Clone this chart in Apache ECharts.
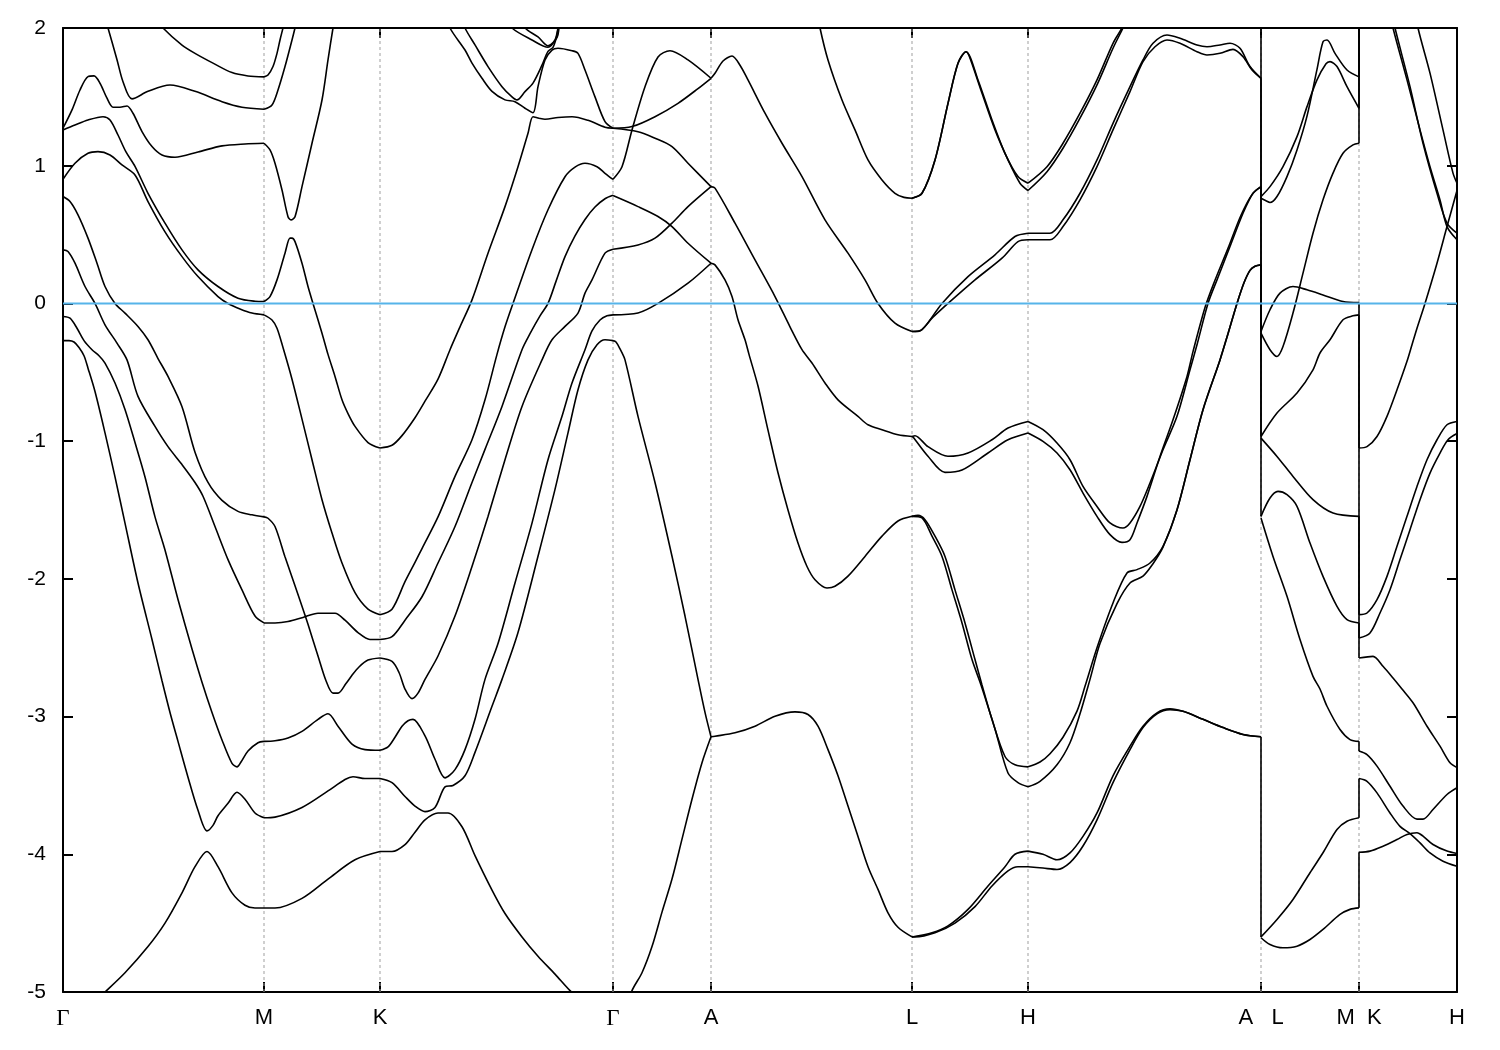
<!DOCTYPE html>
<html><head><meta charset="utf-8">
<script src="https://cdn.jsdelivr.net/npm/echarts@6/dist/echarts.min.js"></script>
<style>html,body{margin:0;padding:0;background:#fff}#c{width:1500px;height:1050px}</style>
</head><body><div id="c"></div>
<script>
// high-symmetry k positions (path length units) and their labels
const kTicks = [0, 201, 317, 550, 648, 849, 965, 1198, 1296, 1394];
const kLabels = ['Γ', 'M', 'K', 'Γ', 'A', 'L', 'H', 'A   L', 'M  K', 'H'];
const eMin = -5, eMax = 2, eStep = 1;
const fermiLevel = 0;

// ---- band data, one array of curves per path segment: [k, E(eV)] ----
const segGM = [
 [[96,2.05],[100,2.0],[119,1.876],[132,1.816],[150,1.745],[169,1.676],[185,1.652],[201,1.645]],
 [[43,2.05],[45,2.0],[54,1.77],[60,1.61],[69,1.485],[85,1.54],[107,1.586],[132,1.54],[159,1.465],[179,1.425],[201,1.41]],
 [[0,1.272],[9,1.405],[17,1.55],[25,1.647],[31,1.652],[37,1.599],[44,1.49],[50,1.425],[57,1.425],[64,1.434],[70,1.381],[79,1.248],[89,1.139],[99,1.078],[112,1.062],[135,1.10],[159,1.144],[182,1.158],[201,1.163]],
 [[0,1.26],[12,1.296],[25,1.332],[40,1.356],[47,1.332],[55,1.223],[63,1.10],[72,0.995],[85,0.80],[102,0.583],[119,0.389],[135,0.244],[155,0.123],[175,0.038],[192,0.016],[201,0.014]],
 [[0,0.902],[12,1.018],[25,1.09],[35,1.102],[47,1.078],[59,1.006],[72,0.933],[85,0.74],[102,0.52],[119,0.34],[135,0.195],[155,0.05],[165,0.0],[177,-0.04],[189,-0.07],[201,-0.083]],
 [[0,0.776],[7,0.74],[15,0.643],[25,0.474],[34,0.292],[42,0.123],[52,0.0],[62,-0.07],[75,-0.167],[85,-0.264],[95,-0.40],[105,-0.53],[119,-0.75],[132,-1.08],[145,-1.30],[159,-1.43],[175,-1.51],[189,-1.535],[201,-1.55]],
 [[0,0.389],[5,0.377],[12,0.292],[22,0.123],[32,0.0],[42,-0.155],[54,-0.288],[64,-0.41],[75,-0.675],[92,-0.893],[105,-1.04],[119,-1.17],[132,-1.30],[140,-1.40],[152,-1.62],[165,-1.86],[179,-2.08],[192,-2.27],[201,-2.32]],
 [[0,-0.095],[7,-0.107],[14,-0.18],[21,-0.27],[29,-0.336],[36,-0.38],[42,-0.433],[52,-0.578],[62,-0.77],[72,-1.01],[82,-1.26],[92,-1.55],[102,-1.79],[115,-2.15],[129,-2.51],[139,-2.75],[149,-2.97],[159,-3.17],[169,-3.34],[174,-3.365],[178,-3.33],[185,-3.25],[195,-3.19],[201,-3.18]],
 [[0,-0.27],[6,-0.27],[11,-0.28],[16,-0.32],[21,-0.38],[25,-0.47],[32,-0.64],[42,-0.94],[52,-1.26],[62,-1.595],[75,-2.03],[89,-2.44],[99,-2.74],[107,-2.97],[115,-3.18],[125,-3.44],[135,-3.68],[144,-3.83],[150,-3.79],[155,-3.72],[165,-3.63],[174,-3.55],[182,-3.60],[192,-3.70],[201,-3.735]],
 [[30,-5.08],[42,-5.0],[62,-4.86],[85,-4.67],[102,-4.5],[119,-4.28],[132,-4.09],[144,-3.98],[155,-4.09],[169,-4.28],[182,-4.37],[192,-4.39],[201,-4.39]]
];
const segMK = [
 [[201,1.645],[205,1.659],[210,1.72],[214,1.816],[217,1.913],[220,2.0],[222,2.06]],
 [[201,1.41],[209,1.441],[215,1.55],[222,1.72],[229,1.913],[232,2.0],[234,2.06]],
 [[201,1.163],[207,1.115],[212,1.018],[219,0.824],[225,0.63],[228,0.607],[232,0.63],[239,0.848],[249,1.163],[259,1.477],[265,1.768],[270,2.0],[272,2.08]],
 [[201,0.014],[207,0.05],[214,0.171],[222,0.365],[227,0.474],[229,0.474],[232,0.449],[239,0.292],[245,0.123],[250,0.0],[259,-0.216],[265,-0.37],[272,-0.53],[279,-0.70],[285,-0.80],[292,-0.893],[305,-1.01],[317,-1.05]],
 [[201,-0.083],[209,-0.12],[214,-0.18],[220,-0.32],[229,-0.55],[239,-0.84],[249,-1.135],[259,-1.425],[269,-1.667],[279,-1.885],[292,-2.10],[305,-2.22],[317,-2.26]],
 [[201,-1.55],[205,-1.56],[212,-1.62],[222,-1.84],[232,-2.05],[240,-2.22],[245,-2.33],[255,-2.56],[263,-2.74],[270,-2.83],[275,-2.83],[283,-2.76],[289,-2.70],[296,-2.64],[305,-2.59],[317,-2.575]],
 [[201,-2.32],[212,-2.32],[225,-2.31],[240,-2.28],[255,-2.25],[272,-2.25],[282,-2.30],[295,-2.39],[307,-2.44],[317,-2.44]],
 [[201,-3.18],[212,-3.175],[225,-3.155],[239,-3.107],[255,-3.02],[265,-2.98],[275,-3.07],[289,-3.20],[302,-3.24],[317,-3.245]],
 [[201,-3.735],[212,-3.73],[239,-3.66],[265,-3.54],[282,-3.457],[290,-3.437],[302,-3.45],[317,-3.45]],
 [[201,-4.39],[212,-4.39],[239,-4.32],[265,-4.18],[292,-4.04],[317,-3.98]]
];
const segKG = [
 [[317,-1.05],[329,-1.03],[339,-0.96],[352,-0.83],[362,-0.71],[375,-0.55],[387,-0.336],[397,-0.17],[409,0.026],[425,0.365],[442,0.703],[455,0.993],[465,1.236],[470,1.356],[476,1.345],[482,1.337],[495,1.35],[509,1.356],[525,1.33],[542,1.28],[550,1.272]],
 [[385,2.08],[387,2.0],[402,1.84],[409,1.745],[419,1.635],[429,1.54],[442,1.478],[452,1.465],[462,1.417],[470,1.385],[475,1.574],[482,1.768],[489,1.84],[495,1.853],[509,1.835],[515,1.816],[522,1.695],[532,1.50],[542,1.32],[550,1.272]],
 [[400,2.06],[402,2.0],[412,1.877],[425,1.72],[439,1.574],[449,1.50],[454,1.478],[462,1.538],[470,1.60],[479,1.73],[485,1.83],[490,1.86],[494,1.95],[496,2.06]],
 [[447,2.06],[449,2.0],[469,1.913],[485,1.86],[492,1.913],[495,2.0],[496,2.06]],
 [[460,2.05],[462,2.0],[475,1.935],[485,1.87],[494,1.93],[496,2.0],[497,2.05]],
 [[317,-2.26],[329,-2.22],[342,-2.02],[352,-1.88],[359,-1.78],[375,-1.55],[392,-1.256],[409,-0.99],[422,-0.70],[434,-0.37],[442,-0.17],[450,0.0],[469,0.39],[485,0.68],[502,0.92],[512,0.99],[522,1.018],[534,0.993],[542,0.945],[550,0.90]],
 [[317,-2.575],[329,-2.60],[336,-2.68],[342,-2.80],[349,-2.87],[355,-2.83],[362,-2.73],[375,-2.56],[392,-2.27],[409,-1.91],[425,-1.547],[442,-1.135],[459,-0.748],[479,-0.41],[489,-0.264],[502,-0.167],[515,-0.07],[522,0.075],[529,0.171],[542,0.365],[550,0.394]],
 [[317,-2.44],[329,-2.42],[342,-2.30],[359,-2.13],[375,-1.885],[392,-1.62],[409,-1.30],[422,-1.06],[439,-0.748],[459,-0.336],[467,-0.22],[477,-0.09],[485,0.0],[493,0.16],[502,0.34],[512,0.49],[522,0.61],[532,0.70],[542,0.76],[550,0.785]],
 [[317,-3.245],[325,-3.22],[332,-3.15],[339,-3.07],[345,-3.03],[350,-3.02],[362,-3.14],[372,-3.31],[382,-3.445],[392,-3.385],[402,-3.24],[412,-3.02],[422,-2.73],[435,-2.47],[452,-2.03],[469,-1.595],[485,-1.135],[499,-0.82],[509,-0.578],[522,-0.336],[529,-0.2],[537,-0.12],[544,-0.09],[550,-0.083]],
 [[317,-3.45],[329,-3.48],[342,-3.58],[352,-3.65],[362,-3.69],[372,-3.66],[382,-3.51],[390,-3.50],[402,-3.43],[412,-3.26],[429,-2.925],[439,-2.73],[455,-2.39],[475,-1.836],[492,-1.35],[505,-0.94],[515,-0.627],[525,-0.41],[534,-0.30],[542,-0.264],[550,-0.27]],
 [[317,-3.98],[329,-3.98],[342,-3.93],[352,-3.84],[362,-3.75],[375,-3.70],[385,-3.70],[399,-3.80],[412,-4.01],[429,-4.26],[442,-4.43],[459,-4.60],[475,-4.74],[492,-4.87],[507,-4.99],[520,-5.08]]
];
const segGA = [
 [[550,1.272],[569,1.284],[592,1.356],[615,1.453],[635,1.56],[648,1.635]],
 [[550,0.902],[559,0.993],[569,1.26],[582,1.574],[595,1.79],[607,1.835],[625,1.768],[648,1.635]],
 [[550,1.272],[575,1.247],[592,1.20],[609,1.139],[625,1.018],[648,0.848]],
 [[550,0.783],[575,0.703],[595,0.631],[609,0.558],[625,0.437],[648,0.292]],
 [[550,0.394],[575,0.425],[592,0.474],[609,0.583],[625,0.703],[648,0.848]],
 [[550,-0.083],[575,-0.07],[595,0.0],[625,0.147],[648,0.292]],
 [[550,-0.27],[553,-0.28],[557,-0.33],[562,-0.41],[575,-0.82],[592,-1.30],[609,-1.836],[622,-2.27],[635,-2.73],[642,-2.97],[648,-3.147]],
 [[565,-5.1],[569,-4.99],[579,-4.86],[589,-4.67],[599,-4.42],[609,-4.18],[619,-3.89],[629,-3.60],[639,-3.335],[648,-3.147]]
];
const segAL = [
 [[648,1.635],[652,1.671],[660,1.76],[669,1.797],[677,1.73],[685,1.623],[702,1.381],[719,1.163],[739,0.921],[762,0.607],[785,0.365],[802,0.171],[815,0.0],[832,-0.143],[849,-0.204]],
 [[648,0.848],[652,0.837],[672,0.583],[692,0.316],[712,0.05],[727,-0.17],[739,-0.336],[749,-0.433],[762,-0.578],[775,-0.70],[795,-0.82],[805,-0.881],[819,-0.917],[835,-0.954],[849,-0.966]],
 [[648,0.292],[652,0.28],[662,0.171],[669,0.05],[675,-0.119],[682,-0.264],[686,-0.37],[695,-0.60],[705,-0.92],[715,-1.23],[725,-1.50],[735,-1.74],[744,-1.91],[752,-2.006],[764,-2.066],[772,-2.054],[785,-1.98],[802,-1.837],[819,-1.69],[835,-1.58],[849,-1.546]],
 [[648,-3.147],[652,-3.143],[672,-3.118],[692,-3.07],[712,-2.998],[732,-2.966],[745,-2.985],[755,-3.07],[765,-3.24],[775,-3.43],[785,-3.65],[795,-3.87],[805,-4.09],[815,-4.255],[825,-4.425],[835,-4.53],[849,-4.60]],
 [[755,2.1],[757,2.0],[765,1.768],[779,1.477],[792,1.26],[805,1.042],[819,0.897],[832,0.80],[841,0.77],[849,0.764]]
];
const segLH = [
 [[849,0.764],[859,0.80],[872,1.042],[885,1.453],[895,1.744],[903,1.828],[915,1.623],[929,1.332],[942,1.09],[955,0.921],[965,0.873]],
 [[849,0.764],[859,0.80],[872,1.042],[885,1.453],[895,1.744],[903,1.828],[906,1.80],[919,1.526],[932,1.26],[945,1.042],[957,0.873],[965,0.82]],
 [[849,-0.204],[859,-0.19],[879,0.0],[905,0.195],[932,0.353],[952,0.486],[965,0.51]],
 [[849,-0.204],[855,-0.204],[870,-0.10],[885,0.0],[912,0.171],[939,0.329],[955,0.449],[965,0.462]],
 [[849,-0.966],[852,-0.961],[865,-1.04],[885,-1.11],[905,-1.086],[929,-0.99],[945,-0.905],[965,-0.857]],
 [[849,-0.966],[850,-0.97],[865,-1.11],[882,-1.227],[899,-1.21],[925,-1.086],[945,-0.99],[965,-0.941]],
 [[849,-1.546],[855,-1.539],[862,-1.57],[872,-1.69],[882,-1.837],[892,-2.08],[902,-2.32],[912,-2.586],[919,-2.77],[929,-3.02],[942,-3.29],[952,-3.35],[965,-3.365]],
 [[849,-1.546],[859,-1.558],[869,-1.69],[879,-1.837],[889,-2.08],[899,-2.32],[909,-2.586],[918,-2.77],[932,-3.09],[945,-3.41],[955,-3.48],[965,-3.51]],
 [[849,-4.60],[869,-4.57],[885,-4.52],[905,-4.40],[925,-4.23],[942,-4.09],[952,-4.00],[965,-3.977]],
 [[849,-4.60],[852,-4.60],[872,-4.57],[892,-4.50],[912,-4.38],[929,-4.23],[945,-4.12],[955,-4.09],[965,-4.09]]
];
const segHA = [
 [[965,0.873],[984,0.993],[1000,1.163],[1017,1.381],[1034,1.623],[1050,1.889],[1059,2.0],[1062,2.05]],
 [[965,0.82],[984,0.957],[1000,1.127],[1017,1.345],[1034,1.587],[1050,1.853],[1060,2.0],[1063,2.05]],
 [[965,0.51],[987,0.51],[1000,0.607],[1017,0.80],[1034,1.042],[1050,1.308],[1067,1.574],[1080,1.768],[1090,1.889],[1104,1.949],[1117,1.925],[1134,1.877],[1144,1.864],[1157,1.877],[1167,1.889],[1177,1.853],[1187,1.72],[1198,1.635]],
 [[965,0.462],[987,0.462],[1000,0.558],[1017,0.752],[1034,0.993],[1050,1.26],[1067,1.538],[1080,1.756],[1092,1.864],[1104,1.913],[1117,1.889],[1134,1.828],[1144,1.804],[1157,1.816],[1170,1.845],[1180,1.792],[1189,1.695],[1198,1.635]],
 [[965,-0.857],[980,-0.917],[994,-1.014],[1007,-1.135],[1020,-1.329],[1034,-1.474],[1047,-1.594],[1060,-1.631],[1067,-1.594],[1077,-1.474],[1087,-1.304],[1100,-1.062],[1114,-0.82],[1127,-0.482],[1134,-0.30],[1145,0.0],[1154,0.171],[1167,0.413],[1180,0.655],[1190,0.80],[1198,0.848]],
 [[965,-0.941],[980,-1.002],[994,-1.086],[1007,-1.208],[1020,-1.377],[1034,-1.546],[1047,-1.679],[1059,-1.735],[1067,-1.716],[1074,-1.594],[1084,-1.401],[1097,-1.111],[1110,-0.845],[1124,-0.53],[1130,-0.35],[1142,-0.03],[1151,0.15],[1165,0.40],[1178,0.64],[1189,0.79],[1198,0.848]],
 [[965,-3.365],[977,-3.33],[987,-3.27],[1000,-3.15],[1014,-2.96],[1022,-2.78],[1034,-2.50],[1050,-2.175],[1064,-1.957],[1074,-1.933],[1087,-1.885],[1100,-1.764],[1114,-1.498],[1127,-1.135],[1140,-0.772],[1157,-0.41],[1165,-0.22],[1174,0.0],[1181,0.15],[1187,0.24],[1192,0.27],[1198,0.28]],
 [[965,-3.51],[977,-3.47],[994,-3.35],[1007,-3.19],[1017,-2.98],[1027,-2.73],[1037,-2.47],[1054,-2.18],[1067,-2.03],[1080,-1.98],[1090,-1.89],[1100,-1.77],[1114,-1.50],[1127,-1.135],[1140,-0.772],[1157,-0.41],[1165,-0.22],[1174,0.0],[1181,0.15],[1187,0.24],[1192,0.27],[1198,0.28]],
 [[965,-3.977],[980,-4.00],[994,-4.04],[1007,-3.99],[1020,-3.87],[1034,-3.70],[1050,-3.43],[1067,-3.215],[1080,-3.07],[1094,-2.973],[1107,-2.944],[1120,-2.962],[1140,-3.02],[1160,-3.08],[1180,-3.13],[1198,-3.147]],
 [[965,-4.09],[980,-4.10],[994,-4.11],[1007,-4.06],[1020,-3.94],[1034,-3.75],[1050,-3.48],[1067,-3.24],[1080,-3.08],[1094,-2.98],[1107,-2.95],[1120,-2.962],[1140,-3.02],[1160,-3.08],[1180,-3.13],[1198,-3.147]]
];
const segLM = [
 [[1198,0.764],[1203,0.745],[1207,0.733],[1214,0.776],[1224,0.921],[1234,1.115],[1244,1.36],[1254,1.70],[1260,1.90],[1264,1.913],[1272,1.816],[1284,1.695],[1296,1.645]],
 [[1198,0.776],[1207,0.848],[1220,0.993],[1234,1.211],[1244,1.429],[1254,1.623],[1263,1.74],[1267,1.756],[1274,1.72],[1284,1.574],[1296,1.417]],
 [[1198,-0.204],[1207,-0.046],[1217,0.075],[1230,0.123],[1244,0.099],[1260,0.062],[1280,0.014],[1296,0.007]],
 [[1198,-0.216],[1207,-0.336],[1214,-0.385],[1220,-0.313],[1230,-0.07],[1240,0.22],[1250,0.51],[1260,0.752],[1270,0.946],[1280,1.09],[1290,1.151],[1296,1.163]],
 [[1198,-0.966],[1214,-0.796],[1234,-0.651],[1250,-0.482],[1257,-0.36],[1267,-0.264],[1280,-0.119],[1290,-0.09],[1296,-0.083]],
 [[1198,-0.978],[1214,-1.111],[1230,-1.256],[1250,-1.425],[1270,-1.522],[1296,-1.546]],
 [[1198,-1.546],[1207,-1.413],[1215,-1.365],[1224,-1.389],[1234,-1.474],[1247,-1.74],[1260,-1.982],[1274,-2.20],[1284,-2.296],[1296,-2.32]],
 [[1198,-1.558],[1210,-1.837],[1224,-2.127],[1237,-2.44],[1250,-2.708],[1257,-2.80],[1264,-2.925],[1277,-3.094],[1287,-3.167],[1296,-3.18]],
 [[1198,-4.60],[1214,-4.473],[1230,-4.328],[1247,-4.134],[1260,-3.989],[1274,-3.82],[1284,-3.76],[1296,-3.735]],
 [[1198,-4.606],[1207,-4.655],[1220,-4.679],[1234,-4.667],[1247,-4.619],[1260,-4.546],[1277,-4.437],[1287,-4.40],[1296,-4.389]]
];
const segKH = [
 [[1328,2.08],[1330,2.0],[1344,1.623],[1357,1.26],[1367,0.993],[1377,0.752],[1384,0.558],[1394,0.462]],
 [[1330,2.08],[1332,2.0],[1347,1.574],[1360,1.163],[1374,0.80],[1384,0.583],[1394,0.51]],
 [[1354,2.08],[1355,2.0],[1367,1.672],[1380,1.26],[1390,0.946],[1394,0.873]],
 [[1296,-1.05],[1304,-1.04],[1314,-0.966],[1324,-0.82],[1334,-0.627],[1344,-0.42],[1349,-0.30],[1354,-0.18],[1362,0.0],[1374,0.292],[1384,0.558],[1394,0.82]],
 [[1296,-2.26],[1304,-2.248],[1314,-2.151],[1324,-1.982],[1334,-1.764],[1344,-1.546],[1354,-1.329],[1364,-1.135],[1374,-0.99],[1384,-0.881],[1394,-0.857]],
 [[1296,-2.43],[1307,-2.393],[1317,-2.248],[1327,-2.079],[1337,-1.86],[1347,-1.643],[1357,-1.425],[1367,-1.232],[1377,-1.087],[1385,-0.99],[1394,-0.945]],
 [[1296,-2.575],[1310,-2.563],[1320,-2.635],[1330,-2.72],[1339,-2.80],[1350,-2.90],[1364,-3.07],[1377,-3.215],[1387,-3.336],[1394,-3.37]],
 [[1296,-3.25],[1304,-3.276],[1314,-3.36],[1327,-3.506],[1340,-3.65],[1354,-3.745],[1360,-3.745],[1370,-3.675],[1384,-3.566],[1394,-3.517]],
 [[1296,-3.45],[1304,-3.47],[1314,-3.554],[1327,-3.70],[1337,-3.797],[1347,-3.85],[1357,-3.917],[1367,-3.99],[1380,-4.05],[1394,-4.087]],
 [[1296,-3.985],[1307,-3.977],[1320,-3.941],[1334,-3.893],[1344,-3.856],[1354,-3.844],[1360,-3.868],[1370,-3.929],[1384,-3.977],[1394,-3.994]]
];
// band connections across the path breaks A|L and M|K: [E before, E after]
const jumpAL = [[2.1,0.764],[1.635,-0.204],[0.848,-0.966],[0.28,-1.546],[-3.147,-4.60]];
const jumpMK = [[1.645,2.1],[1.417,2.1],[1.163,2.1],[0.007,-1.05],[-0.083,-2.26],[-1.546,-2.43],[-2.32,-2.575],[-3.18,-3.25],[-3.735,-3.45],[-4.389,-3.985]];

// ---- build series ----
const bandStyle = {color:'#000', width:1.6};
const series = [];
// dotted vertical guides at interior high-symmetry points
kTicks.slice(1, -1).forEach(k => {
  series.push({type:'line', data:[[k,eMin],[k,eMax]], symbol:'none', silent:true, z:1,
    lineStyle:{color:'#a0a0a0', width:1, type:[3,3]}});
});
[segGM, segMK, segKG, segGA, segAL, segLH, segHA, segLM, segKH].forEach(seg => {
  seg.forEach(curve => series.push({type:'line', data:curve, symbol:'none', smooth:0.3,
    silent:true, z:3, lineStyle:bandStyle}));
});
[[kTicks[7], jumpAL], [kTicks[8], jumpMK]].forEach(([k, pairs]) => {
  pairs.forEach(p => series.push({type:'line', data:[[k,p[0]],[k,p[1]]], symbol:'none',
    silent:true, z:3, lineStyle:bandStyle}));
});
series.push({type:'line', data:[[kTicks[0],fermiLevel],[kTicks[kTicks.length-1],fermiLevel]],
  symbol:'none', silent:true, z:5, lineStyle:{color:'#56b4e9', width:2}});

const axisLineStyle = {color:'#000', width:2};
const option = {
  animation:false,
  backgroundColor:'#fff',
  grid:{left:63, right:43, top:28, bottom:58, containLabel:false},
  xAxis:[
    {type:'value', min:kTicks[0], max:kTicks[kTicks.length-1], position:'bottom',
     axisLine:{show:true, onZero:false, lineStyle:axisLineStyle},
     axisTick:{show:true, inside:true, length:10, customValues:kTicks, lineStyle:axisLineStyle},
     axisLabel:{show:true, customValues:kTicks, showMinLabel:true, showMaxLabel:true, margin:15,
       color:'#000', fontSize:22, fontFamily:'Liberation Sans',
       formatter:(v)=>{const i=kTicks.indexOf(v); const s=i>=0?kLabels[i]:''; return s==='Γ'?'{g|Γ}':s;},
       rich:{g:{fontFamily:'Liberation Serif', fontSize:23, color:'#000'}}},
     splitLine:{show:false}},
    {type:'value', min:kTicks[0], max:kTicks[kTicks.length-1], position:'top',
     axisLine:{show:true, onZero:false, lineStyle:axisLineStyle},
     axisTick:{show:true, inside:true, length:10, customValues:kTicks, lineStyle:axisLineStyle},
     axisLabel:{show:false}, splitLine:{show:false}}
  ],
  yAxis:[
    {type:'value', min:eMin, max:eMax, interval:eStep, position:'left',
     axisLine:{show:true, onZero:false, lineStyle:axisLineStyle},
     axisTick:{show:true, inside:true, length:10, lineStyle:axisLineStyle},
     axisLabel:{color:'#000', fontSize:21, margin:17, fontFamily:'Liberation Sans'},
     splitLine:{show:false}},
    {type:'value', min:eMin, max:eMax, interval:eStep, position:'right',
     axisLine:{show:true, onZero:false, lineStyle:axisLineStyle},
     axisTick:{show:true, inside:true, length:10, lineStyle:axisLineStyle},
     axisLabel:{show:false}, splitLine:{show:false}}
  ],
  series:series
};
const chart = echarts.init(document.getElementById('c'), null, {renderer:'canvas'});
chart.setOption(option);
</script></body></html>
